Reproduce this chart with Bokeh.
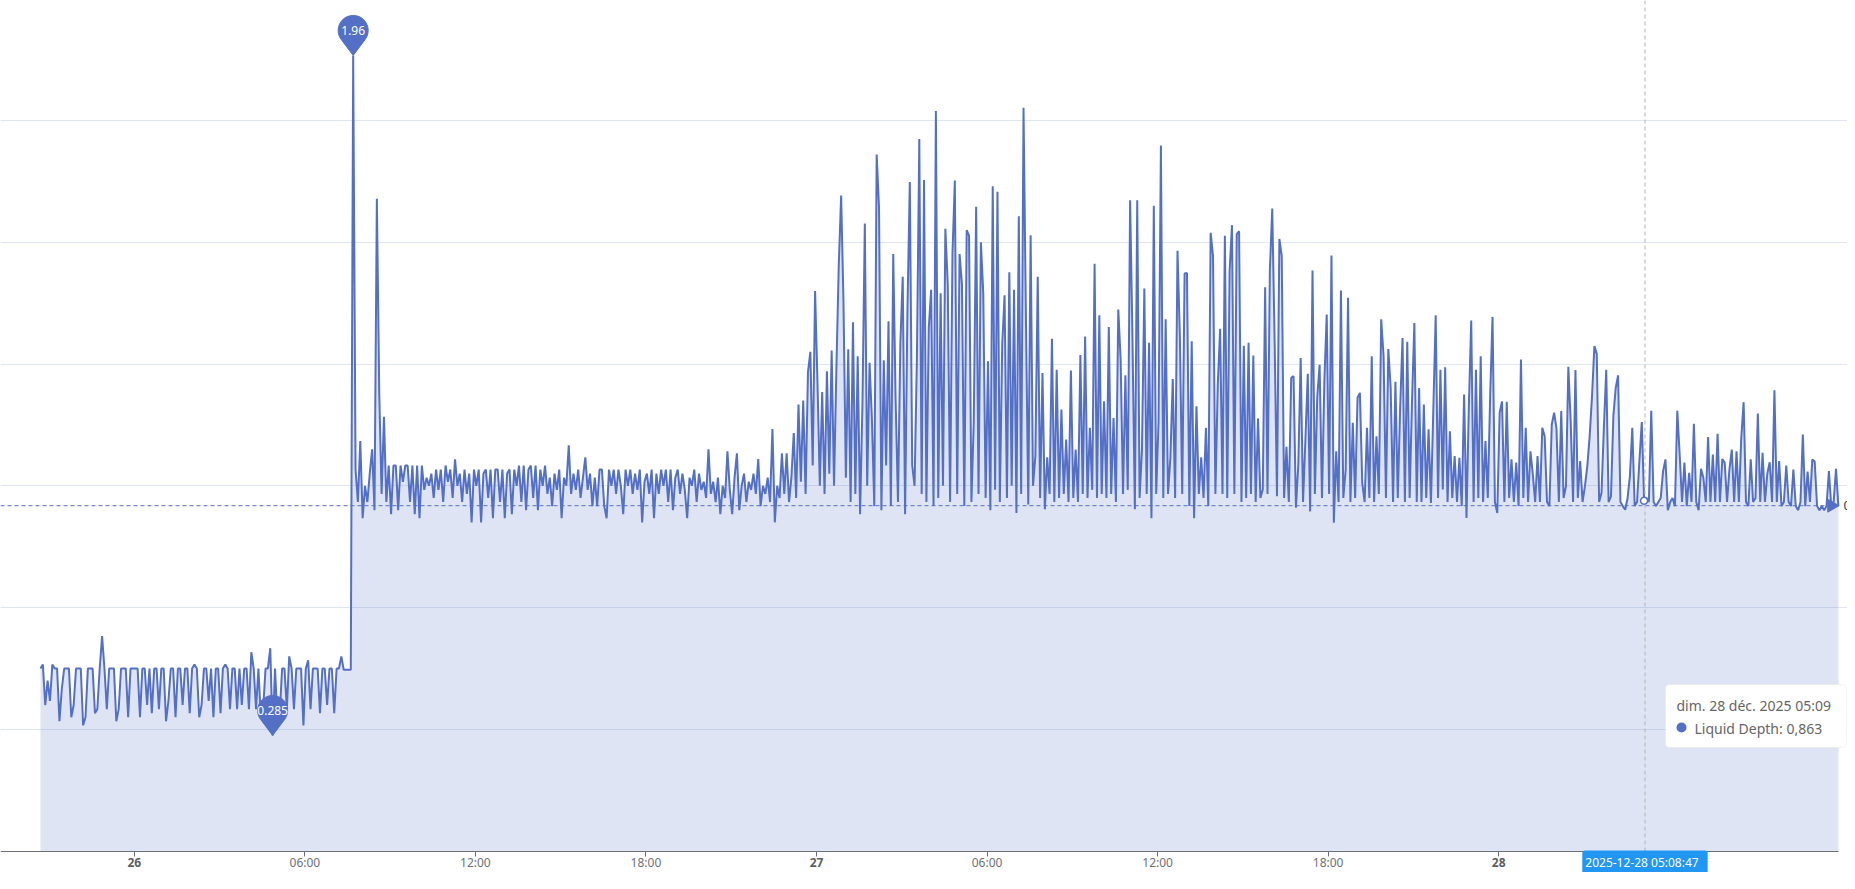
import numpy as np
import pandas as pd
from bokeh.plotting import figure
from bokeh.models import Range1d, FixedTicker, Grid, Label, BoxAnnotation, ColumnDataSource
from bokeh.embed import file_html
from bokeh.resources import INLINE

# ---------------- data ----------------
series_name = "Liquid Depth"
start_time = "2025-12-25 20:42"
step_minutes = 5

depth_25 = [0.45, 0.46, 0.36, 0.42, 0.37, 0.46, 0.45, 0.45, 0.32, 0.40,
            0.45, 0.45, 0.45, 0.33, 0.36, 0.45, 0.45, 0.45, 0.31, 0.33,
            0.45, 0.45, 0.45, 0.34, 0.35, 0.45, 0.53, 0.45, 0.35, 0.45,
            0.45, 0.45, 0.32, 0.35, 0.45, 0.45, 0.45, 0.33, 0.45, 0.45]

depth_26 = [0.45, 0.45, 0.33, 0.45, 0.45, 0.36, 0.45, 0.34, 0.45, 0.45,
            0.35, 0.45, 0.45, 0.32, 0.37, 0.45, 0.45, 0.33, 0.45, 0.45,
            0.36, 0.45, 0.45, 0.34, 0.45, 0.46, 0.45, 0.33, 0.36, 0.45,
            0.45, 0.37, 0.45, 0.33, 0.45, 0.45, 0.34, 0.45, 0.46, 0.45,
            0.35, 0.45, 0.45, 0.35, 0.45, 0.36, 0.45, 0.45, 0.35, 0.49,
            0.45, 0.35, 0.45, 0.33, 0.35, 0.45, 0.45, 0.50, 0.285, 0.45,
            0.33, 0.34, 0.45, 0.45, 0.35, 0.48, 0.45, 0.35, 0.45, 0.45,
            0.45, 0.31, 0.45, 0.47, 0.35, 0.45, 0.45, 0.45, 0.34, 0.45,
            0.45, 0.36, 0.45, 0.45, 0.34, 0.45, 0.45, 0.48, 0.447, 0.447,
            0.447, 0.447, 1.96,
            0.94, 0.86, 1.01, 0.82, 0.90, 0.86, 0.93, 0.99, 0.84, 1.607,
            1.13, 0.88, 1.07, 0.86, 0.95, 0.83, 0.95, 0.95, 0.84, 0.95,
            0.91, 0.95, 0.95, 0.86, 0.95, 0.83, 0.95, 0.82, 0.95, 0.89,
            0.92, 0.90, 0.93, 0.87, 0.94, 0.89, 0.94, 0.86, 0.95, 0.91,
            0.94, 0.87, 0.965, 0.90, 0.93, 0.86, 0.94, 0.88, 0.93, 0.81,
            0.94, 0.90, 0.94, 0.81, 0.93, 0.94, 0.87, 0.94, 0.82, 0.94,
            0.94, 0.86, 0.94, 0.82, 0.93, 0.94, 0.83, 0.94, 0.90, 0.95,
            0.86, 0.95, 0.84, 0.94, 0.95, 0.87, 0.95, 0.84, 0.94, 0.90,
            0.95, 0.88, 0.92, 0.85, 0.93, 0.89, 0.94, 0.82, 0.92, 0.90,
            1.00, 0.88, 0.93, 0.89, 0.94, 0.87, 0.92, 0.97, 0.89, 0.93,
            0.85, 0.92, 0.85, 0.94, 0.94, 0.85, 0.82, 0.94, 0.90, 0.94,
            0.88, 0.94, 0.90, 0.83, 0.94, 0.90, 0.94, 0.88, 0.93, 0.89,
            0.94, 0.81, 0.91, 0.93, 0.88, 0.94, 0.82, 0.93, 0.88, 0.94,
            0.90, 0.94, 0.86, 0.94, 0.84, 0.92, 0.94, 0.88, 0.93, 0.89,
            0.82, 0.92, 0.90, 0.94, 0.86, 0.93, 0.89, 0.91, 0.87, 0.99,
            0.88, 0.91, 0.86, 0.92, 0.83, 0.90, 0.87, 0.985, 0.89, 0.83,
            0.92, 0.98, 0.84, 0.90, 0.93, 0.86, 0.91, 0.89, 0.93, 0.88,
            0.966, 0.85, 0.90, 0.88, 0.92, 0.86, 1.04, 0.81, 0.90, 0.87,
            0.98, 0.88, 0.98, 0.86, 0.92, 1.03, 0.87, 1.10, 0.91, 1.11,
            0.88, 1.18, 1.23, 0.95, 1.38]

depth_27 = [1.158, 0.90, 1.131, 0.88, 1.182, 0.93, 1.233, 0.90, 1.19, 1.443,
            1.615, 1.35, 0.92, 1.236, 0.86, 1.303, 0.88, 1.219, 0.83, 1.10,
            1.546, 0.90, 1.203, 1.063, 0.85, 1.716, 1.585, 0.84, 1.209, 0.95,
            1.305, 0.85, 1.471, 1.112, 0.86, 1.25, 1.415, 0.83, 1.336, 1.648,
            0.95, 0.90, 1.219, 1.754, 0.88, 1.653, 0.86, 1.289, 1.383, 0.85,
            1.823, 0.87, 1.374, 0.90, 1.533, 1.397, 0.86, 1.47, 1.652, 0.88,
            1.471, 1.397, 0.85, 1.53, 1.516, 0.86, 1.059, 1.587, 0.88, 1.50,
            1.374, 0.87, 1.207, 0.84, 1.638, 0.89, 1.624, 0.86, 1.248, 1.369,
            0.87, 1.426, 0.90, 1.383, 0.833, 1.564, 0.88, 1.831, 1.318, 0.854,
            1.517, 0.90, 0.973, 1.415, 0.87, 1.178, 0.842, 0.97, 0.88, 1.262,
            0.86, 1.186, 0.87, 1.088, 0.88, 1.014, 0.86, 1.184, 0.87, 0.989,
            0.86, 1.222, 0.88, 1.268, 0.87, 1.043, 0.89, 1.447, 0.87, 1.32,
            0.88, 1.108, 0.87, 1.291, 0.88, 1.067, 0.86, 1.334, 1.211, 0.88,
            1.172, 0.89, 1.603, 1.259, 0.842, 1.603, 0.87, 0.989, 1.386, 0.88,
            1.252, 0.82, 1.59, 0.88, 1.059, 1.738, 0.87, 1.31, 0.88, 0.969,
            1.163, 0.87, 1.479, 1.268, 0.88, 1.423, 1.424, 0.85, 1.256, 0.82,
            1.096, 0.88, 0.97, 0.87, 1.043, 0.85, 1.523, 1.466, 0.88, 1.149,
            1.287, 0.88, 1.516, 0.87, 1.429, 1.542, 0.88, 1.52, 1.527, 0.86,
            1.245, 0.87, 1.252, 0.88, 1.221, 0.86, 1.066, 0.87, 0.891, 1.389,
            0.88, 1.432, 1.583, 1.258, 0.874, 1.508, 1.467, 0.87, 0.996, 0.86,
            1.166, 1.17, 0.846, 0.952, 1.215, 0.86, 1.014, 1.176, 0.837, 1.43,
            0.88, 1.119, 1.198, 0.87, 1.158, 1.322, 0.88, 1.467, 0.809, 0.985,
            0.86, 1.381, 0.87, 0.94, 1.363, 0.86, 1.055, 0.87, 1.117, 1.129,
            0.907, 0.86, 1.043, 0.87, 1.219, 0.86, 1.022, 0.88, 1.31, 1.219,
            0.87, 1.237, 1.141, 0.86, 1.156, 0.87, 1.092, 1.264, 0.86, 1.255,
            0.87, 1.108, 1.301, 0.86, 1.141, 0.86, 1.10, 0.87, 1.039, 0.858,
            1.088, 1.32, 0.87, 1.186, 0.891, 1.192, 0.86, 1.034, 0.87, 0.973,
            0.86, 0.969, 0.85, 1.125, 0.821, 1.096, 1.307, 0.86, 1.186, 0.87,
            1.219, 0.86, 1.010, 0.87, 1.122, 1.316, 0.86, 0.833]

depth_28 = [1.08, 1.108, 0.86, 1.107, 0.87, 0.965, 0.86, 0.957, 0.85, 1.211,
            0.87, 1.043, 0.86, 0.985, 0.928, 0.86, 0.973, 0.86, 1.043, 1.022,
            0.86, 0.85, 1.051, 1.08, 1.04, 0.86, 1.084, 0.87, 0.899, 1.193,
            1.057, 0.86, 1.185, 0.87, 0.961, 0.86, 0.899, 0.948, 1.022, 1.121,
            1.244, 1.225, 0.86, 0.883, 1.043, 1.186, 0.86, 0.874, 1.071, 1.141,
            1.172, 0.86, 0.85, 0.841, 0.87, 0.924, 1.043, 0.85, 0.86, 0.961,
            1.057, 0.863, 0.87, 0.86, 1.085, 0.86, 0.85, 0.86, 0.87, 0.936,
            0.965, 0.84, 0.86, 0.87, 0.85, 1.085, 0.977, 0.86, 0.957, 0.85,
            0.932, 0.86, 1.053, 0.86, 0.84, 0.942, 0.92, 0.86, 1.02, 0.86,
            0.977, 0.86, 1.028, 0.86, 0.966, 0.957, 0.86, 0.94, 0.989, 0.86,
            0.985, 0.86, 1.018, 1.106, 0.86, 0.85, 0.965, 0.86, 0.87, 1.078,
            0.86, 0.981, 0.86, 0.93, 0.958, 0.86, 1.135, 0.86, 0.961, 0.85,
            0.86, 0.95, 0.86, 0.85, 0.94, 0.85, 0.84, 0.86, 1.026, 0.85,
            0.935, 0.86, 0.965, 0.96, 0.85, 0.84, 0.85, 0.84, 0.85, 0.936,
            0.85, 0.86, 0.942, 0.85]

avg_value = 0.851
grid_levels = [0.3, 0.6, 0.9, 1.2, 1.5, 1.8]
tick_times = ["2025-12-26 00:00", "2025-12-26 06:00", "2025-12-26 12:00", "2025-12-26 18:00",
              "2025-12-27 00:00", "2025-12-27 06:00", "2025-12-27 12:00", "2025-12-27 18:00",
              "2025-12-28 00:00", "2025-12-28 06:00"]
tick_labels = ["26", "06:00", "12:00", "18:00", "27", "06:00", "12:00", "18:00", "28", "06:00"]
day_labels = ["26", "27", "28"]
pointer_time = "2025-12-28 05:08:47"
tooltip_title = "dim. 28 déc. 2025 05:09"

# ---------------- styling / layout ----------------
COLOR = "#5470c6"
AXIS_COLOR = "#6e7079"
FONT = "Noto Sans"
FW, FH = 1847, 872          # frame size (px)
AXIS_PX = 850.7             # pixel row of value 0
PX_PER_UNIT = 406.0
PX_DAY0, PX_PER_HOUR = 133.8, 28.425
DATA_RIGHT_PX = 1838

values = np.array(depth_25 + depth_26 + depth_27 + depth_28, dtype=float)
times = pd.date_range(start_time, periods=len(values), freq=f"{step_minutes}min")
t_ms = (times.asi8 // 10**6).astype(float)

day0 = pd.Timestamp("2025-12-26").value / 1e6
MS_PER_PX = 3.6e6 / PX_PER_HOUR


def X(px):
    return day0 + (px - PX_DAY0) * MS_PER_PX


def Y(py):
    return (AXIS_PX - py) / PX_PER_UNIT


x0, x1 = X(0), X(FW)
x_axis_end = X(DATA_RIGHT_PX)

p = figure(frame_width=FW, frame_height=FH, x_axis_type="datetime", y_axis_location=None,
           x_range=Range1d(x0, x1), y_range=Range1d(Y(FH), Y(0)),
           output_backend="svg", toolbar_location=None, min_border=0)
p.outline_line_color = None
p.background_fill_color = "white"
p.border_fill_color = "white"
for g in p.grid:
    g.visible = False
p.add_layout(Grid(dimension=1, ticker=FixedTicker(ticks=grid_levels),
                  grid_line_color="#e0e6f1", grid_line_width=1))

# series
src = ColumnDataSource(dict(t=t_ms, v=values))
p.varea(x="t", y1=0, y2="v", source=src, fill_color=COLOR, fill_alpha=0.19)
p.line("t", "v", source=src, line_color=COLOR, line_width=2)

# x axis drawn at value 0 (ticks from the axis, labels as text below it)
tick_ms = [int(pd.Timestamp(t).value // 10**6) for t in tick_times]
ax = p.xaxis[0]
ax.fixed_location = 0
ax.bounds = (x0, x_axis_end)
ax.ticker = FixedTicker(ticks=tick_ms)
ax.major_label_overrides = {ms: "" for ms in tick_ms}
ax.major_label_text_font_size = "0px"
ax.major_label_standoff = 0
ax.axis_line_color = AXIS_COLOR
ax.axis_line_width = 1
ax.major_tick_line_color = AXIS_COLOR
ax.major_tick_out = 5
ax.major_tick_in = 0
ax.minor_tick_line_color = None
for ms, lbl in zip(tick_ms, tick_labels):
    bold = lbl in day_labels
    p.add_layout(Label(x=ms, y=Y(862), text=lbl, text_align="center", text_baseline="middle",
                       text_font=FONT, text_font_size="12px",
                       text_font_style="bold" if bold else "normal",
                       text_color="#5c5e66" if bold else AXIS_COLOR))

# average mark line
p.segment(x0=[x0], y0=[avg_value], x1=[X(1828)], y1=[avg_value], line_color=COLOR,
          line_dash="4 3", line_width=1)
p.scatter([X(1831)], [avg_value], marker="triangle", angle=-np.pi / 2, size=13,
          fill_color=COLOR, line_color=COLOR)
p.add_layout(Label(x=x_axis_end, y=avg_value, x_offset=5, text=f"{avg_value:.3f}",
                   text_align="left", text_baseline="middle", text_font=FONT,
                   text_font_size="13px", text_color="#464646"))

# max / min pins
sy = 1.0 / PX_PER_UNIT


def pin(ix):
    tx, ty = t_ms[ix], values[ix]
    r, d = 15.0, 25.0
    phi = np.arccos(r / d)
    a = np.linspace(phi, 2 * np.pi - phi, 40)
    dx = np.concatenate([[0.0], r * np.sin(a), [0.0]])
    dy = np.concatenate([[0.0], d - r * np.cos(a), [0.0]])
    p.patch(tx + dx * MS_PER_PX, ty + dy * sy, fill_color=COLOR, line_color=COLOR, line_width=1)
    p.add_layout(Label(x=tx, y=ty + d * sy, text=f"{ty:g}", text_align="center",
                       text_baseline="middle", text_font=FONT, text_font_size="12px",
                       text_color="white"))


pin(int(np.argmax(values)))
pin(int(np.argmin(values)))

# axis pointer / tooltip
pointer_ms = pd.Timestamp(pointer_time).value / 1e6
hover_ix = int(np.argmin(np.abs(t_ms - pointer_ms)))
p.segment(x0=[pointer_ms], y0=[Y(0)], x1=[pointer_ms], y1=[0], line_color="#b4b4b4",
          line_dash="4 3", line_width=1)
p.scatter([t_ms[hover_ix]], [values[hover_ix]], size=7, fill_color="white",
          line_color=COLOR, line_width=1.5)

p.add_layout(Label(x=pointer_ms, y=Y(864.5),
                   text=pd.Timestamp(pointer_time).strftime("%Y-%m-%d %H:%M:%S"),
                   text_align="center", text_baseline="middle", text_font=FONT,
                   text_font_size="12px", text_color="white",
                   background_fill_color="#2196f3", padding=(3, 9, 3, 9), border_radius=3,
                   level="overlay"))

p.add_layout(BoxAnnotation(left=X(1665), right=X(1846), top=Y(684), bottom=Y(747),
                           fill_color="white", fill_alpha=1.0, line_color="#dcdcdc",
                           line_width=1, border_radius=4, level="overlay"))
p.add_layout(Label(x=X(1676), y=Y(705), text=tooltip_title, text_align="left",
                   text_baseline="middle", text_font=FONT, text_font_size="14px",
                   text_color="#666666", level="overlay"))
p.add_layout(BoxAnnotation(left=X(1676), right=X(1686), top=Y(722), bottom=Y(732),
                           fill_color=COLOR, fill_alpha=1.0, line_color=None,
                           border_radius=5, level="overlay"))
hover_text = f"{series_name}: " + f"{values[hover_ix]:.3f}".replace(".", ",")
p.add_layout(Label(x=X(1694), y=Y(728), text=hover_text, text_align="left",
                   text_baseline="middle", text_font=FONT, text_font_size="14px",
                   text_color="#666666", level="overlay"))

open("out.html", "w").write(file_html(p, INLINE))
